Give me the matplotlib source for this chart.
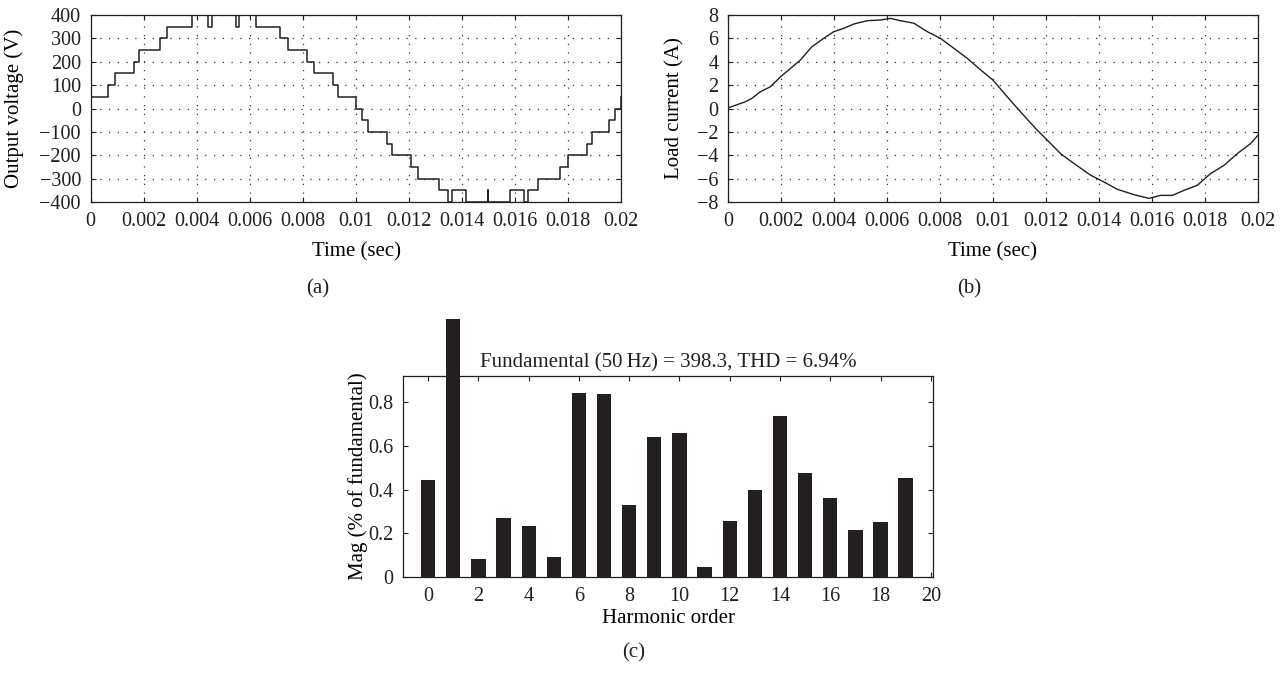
import numpy as np
import matplotlib
matplotlib.use("Agg")
import matplotlib.pyplot as plt
from matplotlib.ticker import FuncFormatter

plt.rcParams["font.family"] = ["Liberation Serif", "DejaVu Serif"]
plt.rcParams["font.size"] = 15

# (a) tension de salida escalonada: instantes de cambio (ms) y nivel (V)
v_t_ms = [0, 0, 0.67, 0.90, 1.62, 1.84, 2.60, 2.88, 3.83, 4.44, 4.57, 5.46, 5.59,
          6.22, 7.15, 7.42, 8.16, 8.43, 9.12, 9.34, 10.0, 10.23, 10.44, 11.16,
          11.36, 12.08, 12.34, 13.14, 13.46, 13.61, 14.13, 14.97, 14.97, 15.80,
          16.33, 16.48, 16.86, 17.70, 17.98, 18.69, 18.88, 19.53, 19.75, 20.0]
v_level = [-30, 50, 100, 150, 200, 250, 300, 350, 400, 350, 400, 350, 400,
           350, 300, 250, 200, 150, 100, 50, 0, -50, -100, -150,
           -200, -250, -300, -350, -400, -350, -400, -350, -400, -350,
           -400, -350, -300, -250, -200, -150, -100, -50, 0, 50]

# (b) corriente de carga
i_t_ms = [0, 0.65, 0.9, 1.22, 1.6, 1.98, 2.36, 2.73, 3.17, 3.61, 3.99, 4.37, 4.75,
          5.25, 5.76, 6.13, 6.51, 7.02, 7.52, 8.02, 8.53, 9.03, 9.54, 10.0,
          10.54, 11.04, 11.61, 12.05, 12.55, 13.06, 13.69, 14.19, 14.69, 15.32,
          15.89, 16.33, 16.77, 17.21, 17.71, 18.21, 18.72, 19.22, 19.72, 20.0]
i_val = [0.05, 0.57, 0.86, 1.43, 1.86, 2.71, 3.43, 4.14, 5.29, 6.0, 6.57, 6.86, 7.23,
         7.51, 7.57, 7.71, 7.51, 7.29, 6.57, 6.0, 5.14, 4.29, 3.29, 2.43,
         1.0, -0.29, -1.71, -2.71, -3.86, -4.71, -5.71, -6.29, -6.91, -7.37,
         -7.69, -7.43, -7.43, -7.0, -6.57, -5.57, -4.86, -3.86, -3.0, -2.29]

# (c) espectro armonico
harm = list(range(20))
mag = [0.445, 1.18, 0.084, 0.268, 0.233, 0.093, 0.842, 0.837, 0.33, 0.639,
       0.661, 0.044, 0.257, 0.40, 0.737, 0.477, 0.361, 0.216, 0.25, 0.454]

ink = "#231f20"


def fmt(x, pos):
    return f"{x:g}".replace("-", "\u2212")


def estilo(ax, grid=True):
    ax.tick_params(direction="in", top=True, right=True, length=3.6, width=0.8,
                   colors=ink, labelcolor=ink, labelsize=14.5)
    ax.tick_params(axis="x", pad=7.5)
    ax.tick_params(axis="y", pad=7)
    for s in ax.spines.values():
        s.set_linewidth(0.9)
        s.set_color(ink)
    if grid:
        ax.grid(True, color="#333333", linestyle=(0, (1, 6)), linewidth=0.9)
    ax.xaxis.set_major_formatter(FuncFormatter(fmt))
    ax.yaxis.set_major_formatter(FuncFormatter(fmt))


fig = plt.figure(figsize=(12.88, 6.75), dpi=100)

# (a)
ax1 = fig.add_axes([0.0704, 0.7007, 0.412, 0.2771])
ax1.step(np.array(v_t_ms) / 1000, v_level, where="post", color=ink, linewidth=1.1)
ax1.set_xlim(0, 0.02)
ax1.set_ylim(-400, 400)
ax1.set_xticks(np.arange(0, 0.0201, 0.002))
ax1.set_yticks(np.arange(-400, 401, 100))
estilo(ax1)
ax1.set_xlabel("Time (sec)")
ax1.set_ylabel("Output voltage (V)")
ax1.xaxis.set_label_coords(0.5, -0.215)
ax1.yaxis.set_label_coords(-0.126, 0.5)

# (b)
ax2 = fig.add_axes([0.5652, 0.7007, 0.4115, 0.2771])
ax2.plot(np.array(i_t_ms) / 1000, i_val, color=ink, linewidth=1.0)
ax2.set_xlim(0, 0.02)
ax2.set_ylim(-8, 8)
ax2.set_xticks(np.arange(0, 0.0201, 0.002))
ax2.set_yticks(np.arange(-8, 9, 2))
estilo(ax2)
ax2.set_xlabel("Time (sec)")
ax2.set_ylabel("Load current (A)")
ax2.xaxis.set_label_coords(0.5, -0.215)
ax2.yaxis.set_label_coords(-0.083, 0.5)

# (c)
ax3 = fig.add_axes([0.3129, 0.1452, 0.4117, 0.2978])
bars = ax3.bar(harm, mag, width=0.57, color=ink, zorder=3)
for b in bars:
    b.set_clip_on(False)
ax3.set_xlim(-1, 20.1)
ax3.set_ylim(0, 0.92)
ax3.set_xticks(range(0, 21, 2))
ax3.set_yticks([0, 0.2, 0.4, 0.6, 0.8])
estilo(ax3, grid=False)
ax3.set_xlabel("Harmonic order")
ax3.set_ylabel("Mag (% of fundamental)")
ax3.xaxis.set_label_coords(0.5, -0.16)
ax3.yaxis.set_label_coords(-0.066, 0.5)
ax3.set_title("Fundamental (50\u2009Hz) = 398.3, THD = 6.94%", pad=6,
              fontsize=15, color=ink)

fig.text(318 / 1288, 1 - 289 / 675, "(a)", ha="center", va="center", color=ink)
fig.text(969 / 1288, 1 - 289 / 675, "(b)", ha="center", va="center", color=ink)
fig.text(634 / 1288, 1 - 653 / 675, "(c)", ha="center", va="center", color=ink)

fig.savefig("out.png", dpi=100)
